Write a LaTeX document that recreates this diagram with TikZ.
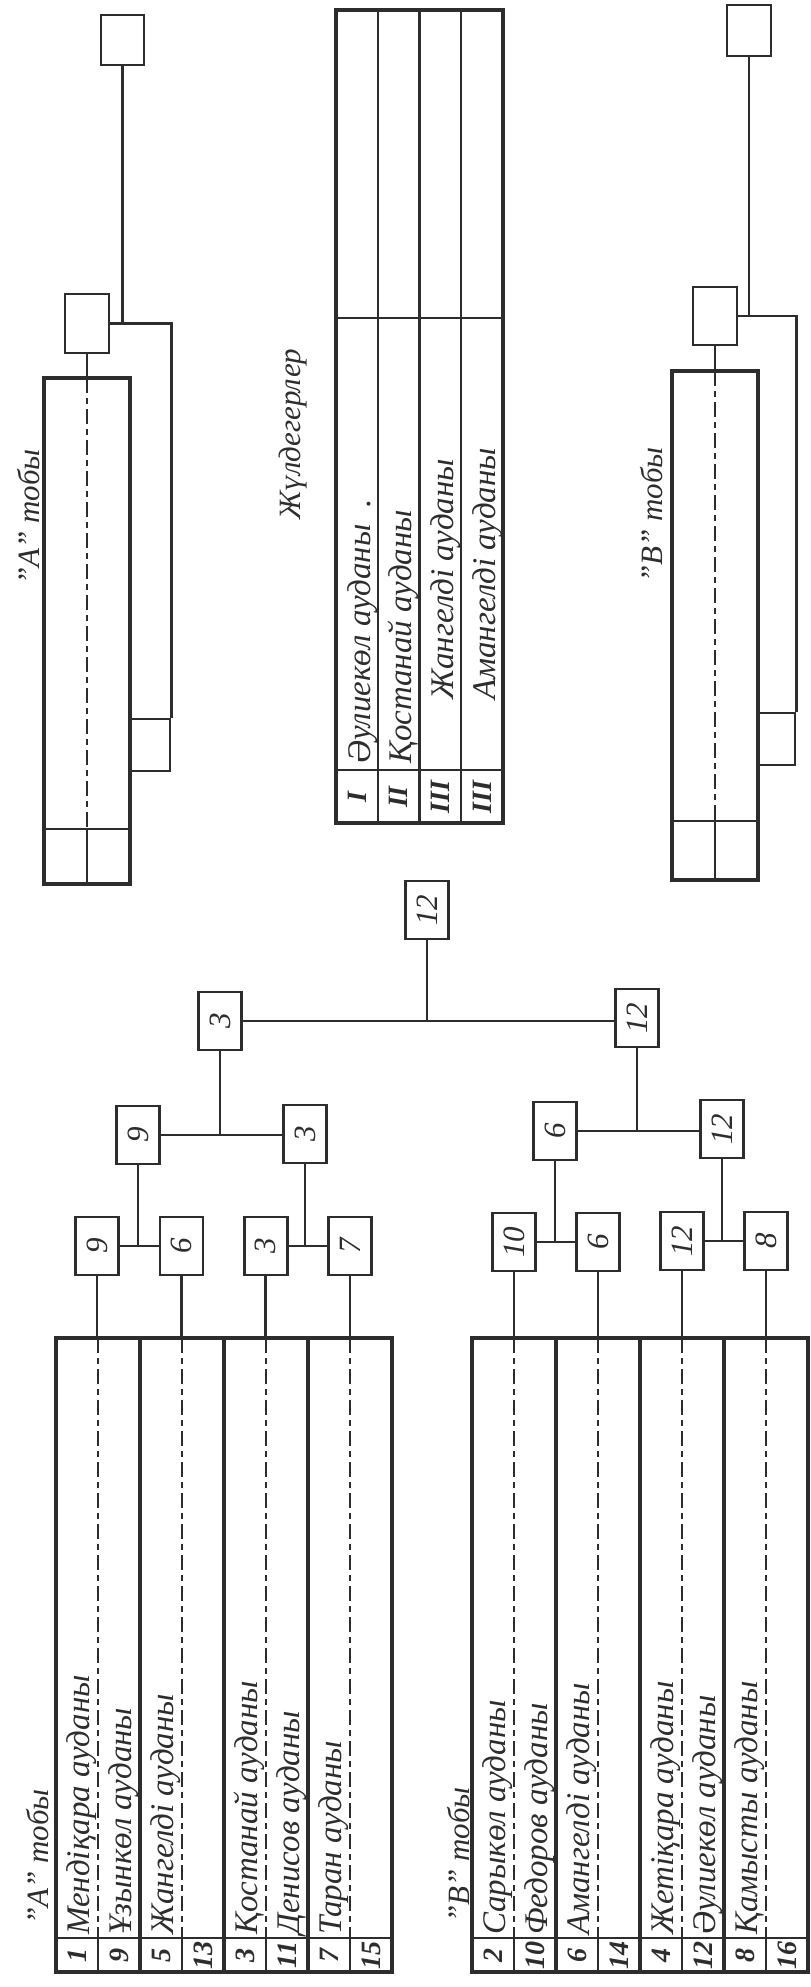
\documentclass[tikz,border=0pt]{standalone}
\usepackage{fontspec}
\setmainfont{Liberation Serif}
\definecolor{ink}{RGB}{45,45,45}
\newcommand\fname{\fontsize{33}{33}\selectfont\itshape}
\newcommand\flabel{\fontsize{31}{31}\selectfont\itshape}
\newcommand\fboxnum{\fontsize{31}{31}\selectfont\itshape}
\newcommand\fstrip{\fontsize{28}{28}\selectfont\bfseries\itshape}
\begin{document}
\begin{tikzpicture}[x=1pt,y=-1pt,
  ln/.style={draw=ink, line width=2.6pt},
  thin/.style={draw=ink, line width=2.4pt},
  thick/.style={draw=ink, line width=4.5pt},
  outer/.style={draw=ink, line width=4pt},
  dsh/.style={draw=ink, line width=2.8pt, dash pattern=on 15pt off 5pt on 6pt off 5pt},
  bx/.style={draw=ink, line width=2.8pt, minimum width=43pt, minimum height=58pt, inner sep=0pt, font=\fboxnum, text=ink},
  nm/.style={rotate=90, anchor=base west, font=\fname, text=ink, inner sep=0pt},
  lbl/.style={rotate=90, font=\flabel, text=ink, inner sep=0pt},
  snum/.style={font=\fstrip, text=ink, inner sep=0pt}]
\useasboundingbox (0,0) rectangle (811,1987);
\fill[white] (0,0) rectangle (811,1987);

% ---------------- upper A group ----------------
\node[lbl] (labA) at (29,517) {"А" тобы};
\node[bx, minimum width=43pt, minimum height=50pt] (ta) at (122.5,40) {};
\node[bx, minimum width=44pt, minimum height=59pt] (ua) at (87,323.5) {};
\node[bx, minimum width=40pt, minimum height=52pt] (sa) at (150,745) {};
\draw[outer] (44,378) rectangle (130,884);
\draw[thin] (44,829) -- (130,829);
\coordinate (raT) at (87,378);
\coordinate (raS) at (87,829);
\coordinate (raB) at (87,884);
\draw[ln] (ua.south) -- (raT);
\draw[dsh] (raT) -- (raS);
\draw[thin] (raS) -- (raB);
\draw[ln] (ua.east) -| (sa.north east);
\draw[ln] (ta.south) -- (ta.south |- ua.east);

% ---------------- upper B group ----------------
\node[lbl] (labB) at (652,515) {"В" тобы};
\node[bx, minimum width=44pt, minimum height=51pt] (tb) at (749,30.5) {};
\node[bx, minimum width=44pt, minimum height=58pt] (ub) at (715,316) {};
\node[bx, minimum width=37pt, minimum height=52pt] (sb) at (776.5,739) {};
\draw[outer] (672,371) rectangle (758,880);
\draw[thin] (672,821) -- (758,821);
\coordinate (rbT) at (715,371);
\coordinate (rbS) at (715,821);
\coordinate (rbB) at (715,880);
\draw[ln] (ub.south) -- (rbT);
\draw[dsh] (rbT) -- (rbS);
\draw[thin] (rbS) -- (rbB);
\draw[ln] (ub.east) -| (sb.north east);
\draw[ln] (tb.south) -- (tb.south |- ub.east);

% ---------------- prize table ----------------
\node[lbl] (labP) at (293,434) {Жүлдегерлер};
\draw[outer] (336,10) rectangle (503,823);
\foreach \x in {377.75,419.5,461.25} \draw[thin] (\x,10) -- (\x,823);
\draw[thin] (336,318) -- (503,318);
\draw[thin] (336,770) -- (503,770);
\node[nm] (p1) at (370,764) {Әулиекөл ауданы \ .};
\node[nm] (p2) at (411.5,764) {Қостанай ауданы};
\node[nm] (p3) at (453,700) {Жангелді ауданы};
\node[nm] (p4) at (495,700) {Амангелді ауданы};
\foreach \r [count=\i] in {I,II,III,III}
  \node[snum] (pr\i) at ({336+41.75*(\i-0.5)},797) {\rotatebox{90}{\r}};

% ---------------- bracket ----------------
\node[bx] (a1) at (97.1,1246) {\rotatebox{90}{9}};
\node[bx] (a2) at (181.4,1246) {\rotatebox{90}{6}};
\node[bx] (a3) at (265.6,1246) {\rotatebox{90}{3}};
\node[bx] (a4) at (349.9,1246) {\rotatebox{90}{7}};
\node[bx] (a12) at (138,1135) {\rotatebox{90}{9}};
\node[bx] (a34) at (305,1134) {\rotatebox{90}{3}};
\node[bx] (aw) at (220,1021) {\rotatebox{90}{3}};
\node[bx] (b1) at (514,1242) {\rotatebox{90}{10}};
\node[bx] (b2) at (598,1242) {\rotatebox{90}{6}};
\node[bx] (b3) at (682,1241) {\rotatebox{90}{12}};
\node[bx] (b4) at (766,1241) {\rotatebox{90}{8}};
\node[bx] (b12) at (555,1131) {\rotatebox{90}{6}};
\node[bx] (b34) at (722,1129) {\rotatebox{90}{12}};
\node[bx] (bw) at (637,1018) {\rotatebox{90}{12}};
\node[bx] (fin) at (427,910) {\rotatebox{90}{12}};

\draw[ln] (a1) -- (a2);
\draw[ln] (a3) -- (a4);
\draw[ln] (b1) -- (b2);
\draw[ln] (b3) -- (b4);
\draw[ln] (a12.south) -- (a12.south |- a1.east);
\draw[ln] (a34.south) -- (a34.south |- a3.east);
\draw[ln] (b12.south) -- (b12.south |- b1.east);
\draw[ln] (b34.south) -- (b34.south |- b3.east);
\draw[ln] (a12.east) -- (a12.east -| a34.west);
\draw[ln] (b12.east) -- (b12.east -| b34.west);
\draw[ln] (aw.south) -- (aw.south |- a12.east);
\draw[ln] (bw.south) -- (bw.south |- b12.east);
\draw[ln] (aw.east) -- (aw.east -| bw.west);
\draw[ln] (fin.south) -- (fin.south |- aw.east);

% ---------------- lower tables ----------------
\coordinate (TA1) at (97.1,1338);
\coordinate (TA2) at (181.4,1338);
\coordinate (TA3) at (265.6,1338);
\coordinate (TA4) at (349.9,1338);
\coordinate (TB1) at (514,1338);
\coordinate (TB2) at (598,1338);
\coordinate (TB3) at (682,1338);
\coordinate (TB4) at (766,1338);
\draw[ln] (a1.south) -- (TA1);
\draw[ln] (a2.south) -- (TA2);
\draw[ln] (a3.south) -- (TA3);
\draw[ln] (a4.south) -- (TA4);
\draw[ln] (b1.south) -- (TB1);
\draw[ln] (b2.south) -- (TB2);
\draw[ln] (b3.south) -- (TB3);
\draw[ln] (b4.south) -- (TB4);

% table A
\node[lbl] (labA2) at (38,1857) {"А" тобы};
\draw[outer] (56,1338) rectangle (392,1972);
\foreach \x in {140,224,308} \draw[thick] (\x,1338) -- (\x,1972);
\draw[thin] (56,1938) -- (392,1938);
\foreach \x in {98,182,266,350} {
  \draw[dsh] (\x,1338) -- (\x,1938);
  \draw[thin] (\x,1938) -- (\x,1972);
}
\foreach \t [count=\i] in {{Мендіқара ауданы},{Ұзынкөл ауданы},{Жангелді ауданы},{},{Қостанай ауданы},{Денисов ауданы},{Таран ауданы},{}}
  \node[nm] (na\i) at ({56+42*\i-9},1935) {\t};
\foreach \n [count=\i] in {1,9,5,13,3,11,7,15}
  \node[snum] (sa\i) at ({56+42*(\i-0.5)},1955) {\rotatebox{90}{\n}};

% table B
\node[lbl] (labB2) at (459,1855) {"В" тобы};
\draw[outer] (472,1338) rectangle (808,1972);
\foreach \x in {556,640,724} \draw[thick] (\x,1338) -- (\x,1972);
\draw[thin] (472,1938) -- (808,1938);
\foreach \x in {514,598,682,766} {
  \draw[dsh] (\x,1338) -- (\x,1938);
  \draw[thin] (\x,1938) -- (\x,1972);
}
\foreach \t [count=\i] in {{Сарыкөл ауданы},{Федоров ауданы},{Амангелді ауданы},{},{Жетіқара ауданы},{Әулиекөл ауданы},{Қамысты ауданы},{}}
  \node[nm] (nb\i) at ({472+42*\i-9},1935) {\t};
\foreach \n [count=\i] in {2,10,6,14,4,12,8,16}
  \node[snum] (sb\i) at ({472+42*(\i-0.5)},1955) {\rotatebox{90}{\n}};
\end{tikzpicture}
\end{document}
